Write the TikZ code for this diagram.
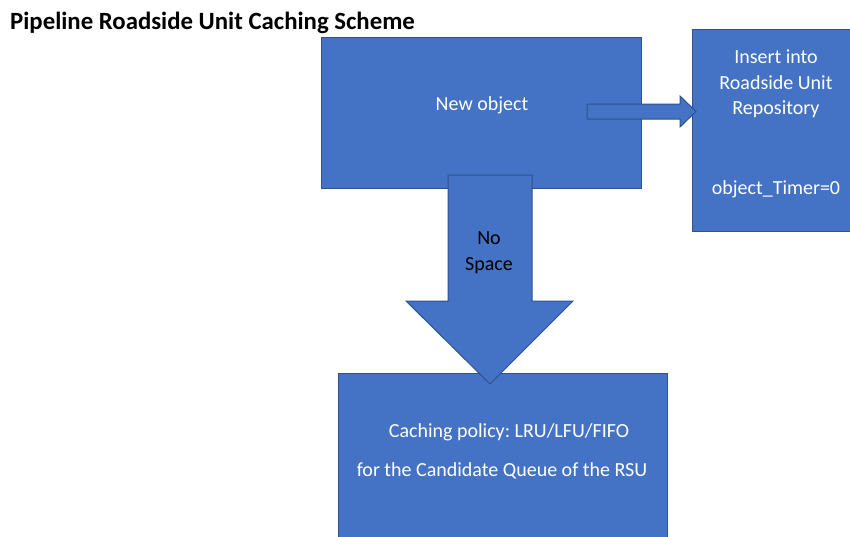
\documentclass[tikz,border=0pt]{standalone}
\usepackage{fontspec}
\setmainfont{Carlito}
\frenchspacing
\definecolor{blockfill}{HTML}{4472C4}
\definecolor{blockedge}{HTML}{2F528F}
\begin{document}
\begin{tikzpicture}[x=1pt,y=-1pt,
  block/.style={draw=blockedge, fill=blockfill, line width=1pt, inner sep=0pt},
  boxtext/.style={text=white, font=\fontsize{20}{24}\selectfont, inner sep=0pt},
  arrowtext/.style={text=black, font=\fontsize{20}{24}\selectfont, inner sep=0pt},
  blockarrow/.style={draw=blockedge, fill=blockfill, line width=1pt, line join=miter}]
\useasboundingbox (0,0) rectangle (850,536);
\clip (0,0) rectangle (850,536);
\fill[white] (0,0) rectangle (850,536);

% title
\node[anchor=west, inner sep=0pt, font=\bfseries\fontsize{24.8}{28}\selectfont] (title) at (10,23) {Pipeline Roadside Unit Caching Scheme};

% blocks
\node[block, minimum width=320pt, minimum height=151pt] (newobj) at (481,112.5) {};
\node[block, minimum width=160pt, minimum height=202pt] (repo) at (772,130) {};
\node[block, minimum width=329pt, minimum height=180pt] (policy) at (502.5,463) {};

% downward block arrow "No Space"
\coordinate (dtop) at (490,175);
\coordinate (dtip) at (490,384);
\draw[blockarrow] (dtop) ++(-42,0) -- ++(84,0) -- ++(0,126) -- ++(41,0) -- (dtip)
  -- ++(-84,-83) -- ++(42,0) -- cycle;

% rightward block arrow into the repository
\coordinate (rtail) at (587,111.5);
\coordinate (rtip) at (696,111.5);
\draw[blockarrow] (rtail) ++(0,-7.5) -- ++(93,0) -- ++(0,-8) -- (rtip)
  -- ++(-16,15.5) -- ++(0,-8) -- ++(-93,0) -- cycle;

% texts
\node[boxtext] (t1) at (482,105) {New object};
\node[boxtext] (t2) at (776,57) {Insert into};
\node[boxtext] (t3) at (776,83) {Roadside Unit};
\node[boxtext] (t4) at (776,109) {Repository};
\node[boxtext] (t5) at (776,189) {object\_Timer=0};
\node[arrowtext] (t6) at (489,238) {No};
\node[arrowtext] (t7) at (489,266) {Space};
\node[boxtext] (t8) at (509,432) {Caching policy: LRU/LFU/FIFO};
\node[boxtext] (t9) at (502,471) {for the Candidate Queue of the RSU};
\end{tikzpicture}
\end{document}
